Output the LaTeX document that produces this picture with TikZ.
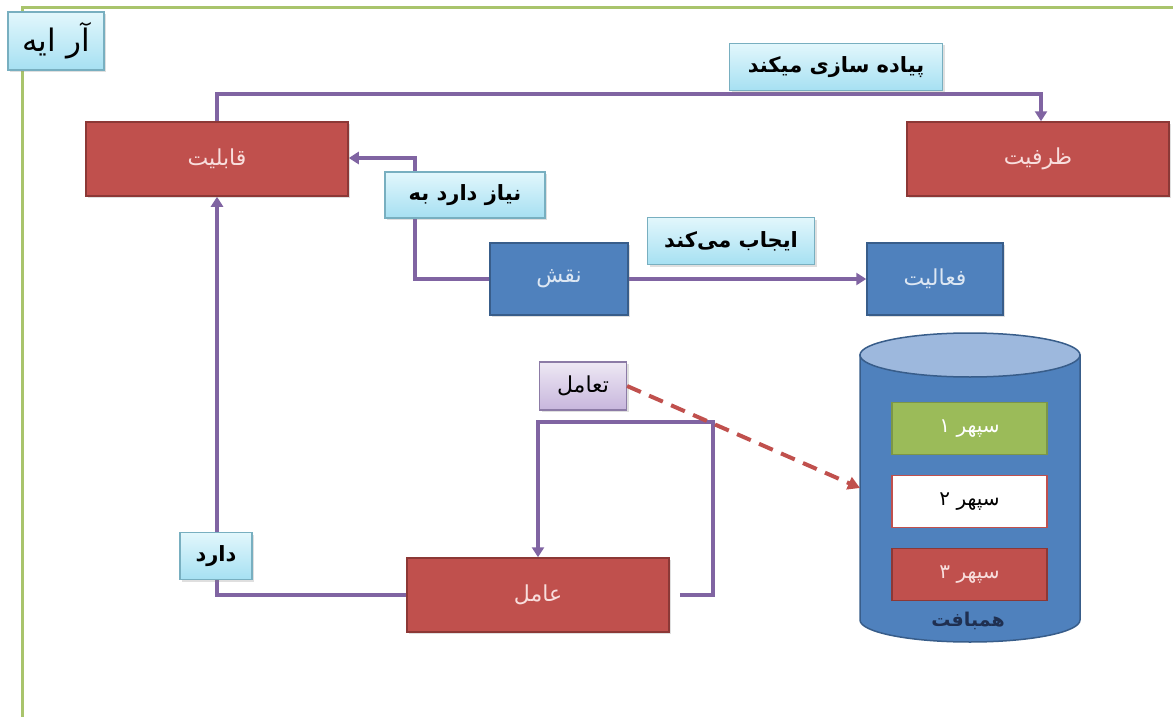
\documentclass[tikz,border=0pt]{standalone}
\usepackage{fontspec}
\newfontfamily\fa[Script=Arabic]{DejaVu Sans}
\TeXXeTstate=1
\usetikzlibrary{arrows.meta,shadows}
\pgfdeclarelayer{bg}
\pgfsetlayers{bg,main}
\definecolor{boxred}{HTML}{C0504D}
\definecolor{boxredline}{HTML}{8C3836}
\definecolor{boxblue}{HTML}{4F81BD}
\definecolor{boxblueline}{HTML}{385D8A}
\definecolor{cyantop}{HTML}{E2F7FC}
\definecolor{cyanbot}{HTML}{A6E0F2}
\definecolor{cyanline}{HTML}{78AFC0}
\definecolor{lavtop}{HTML}{EEE8F4}
\definecolor{lavbot}{HTML}{C7B6DC}
\definecolor{lavline}{HTML}{8C7BA6}
\definecolor{linepurple}{HTML}{8064A2}
\definecolor{framegreen}{HTML}{A9C46C}
\definecolor{cyltop}{HTML}{9DB8DD}
\definecolor{sgreen}{HTML}{9BBB59}
\definecolor{redtext}{HTML}{F8DEDD}
\definecolor{bluetext}{HTML}{DDE7F3}
\definecolor{navytext}{HTML}{1F2F50}
\newcommand\fatext[1]{\fa\beginR #1\endR}
\tikzset{
  shd/.style={drop shadow={opacity=0.25,shadow xshift=2pt,shadow yshift=-2pt}},
  redbox/.style={shd,draw=boxredline,line width=1.5pt,fill=boxred,text=redtext,
    minimum width=262pt,minimum height=74pt,font=\fontsize{22}{26}\selectfont},
  bluebox/.style={shd,draw=boxblueline,line width=1.5pt,fill=boxblue,text=bluetext,
    minimum width=138pt,minimum height=72pt,font=\fontsize{22}{26}\selectfont},
  cyanlabel/.style={shd,draw=cyanline,line width=1.2pt,top color=cyantop,bottom color=cyanbot,
    text=black,minimum height=47pt,inner sep=2pt,font=\fontsize{21}{25}\selectfont\bfseries},
  lavlabel/.style={shd,draw=lavline,line width=1.2pt,top color=lavtop,bottom color=lavbot,
    text=black,minimum height=48pt,minimum width=87pt,inner sep=2pt,font=\fontsize{22}{26}\selectfont},
  sphere/.style={line width=1.5pt,minimum width=155pt,minimum height=52pt,font=\fontsize{20}{24}\selectfont},
  conn/.style={draw=linepurple,line width=4pt},
  arr/.style={-{Triangle[length=10pt,width=12pt]}},
  dashconn/.style={draw=boxred,line width=4pt,dash pattern=on 15pt off 9pt,
    -{Triangle[length=12pt,width=13pt]}},
}
\begin{document}
\begin{tikzpicture}[x=1pt,y=-1pt]
\useasboundingbox (0,0) rectangle (1173,717);
\begin{pgfonlayer}{bg}
  \draw[framegreen,line width=3pt] (22,725) -- (22,8) -- (1180,8);
\end{pgfonlayer}

% main boxes
\node[redbox] (qab) at (217,159) {\fatext{قابلیت}};
\node[redbox] (zarf) at (1038,159) {\fatext{ظرفیت}};
\node[bluebox] (naqsh) at (559,279) {\fatext{نقش}};
\node[bluebox,minimum width=136pt] (faal) at (935,279) {\fatext{فعالیت}};
\node[redbox] (amel) at (538,595) {\fatext{عامل}};

% cylinder
\fill[boxblue,draw=boxblueline,line width=1.5pt]
  (860,355) -- (860,620) arc[start angle=180,end angle=0,x radius=110,y radius=22] -- (1080,355) -- cycle;
\fill[cyltop,draw=boxblueline,line width=1.5pt] (970,355) ellipse[x radius=110,y radius=22];
\coordinate (dbw) at (860,488);
\node[sphere,fill=sgreen,draw=sgreen!80!black,text=white] (s1) at (969.5,428.5) {\fatext{سپهر ۱}};
\node[sphere,fill=white,draw=boxred,text=black] (s2) at (969.5,501.5) {\fatext{سپهر ۲}};
\node[sphere,fill=boxred,draw=boxredline,text=redtext] (s3) at (969.5,574.5) {\fatext{سپهر ۳}};
\node[text=navytext,font=\fontsize{19}{22}\selectfont\bfseries] (hb) at (968,621) {\fatext{همبافت}};

% labels
\node[cyanlabel,minimum width=96pt,minimum height=58pt,font=\fontsize{31}{34}\selectfont] (title) at (56,41) {\fatext{آر ایه}};
\node[cyanlabel,minimum width=213pt] (pl) at (836,67) {\fatext{پیاده سازی میکند}};
\node[cyanlabel,minimum width=160pt,minimum height=46pt] (niaz) at (465,195) {\fatext{نیاز دارد به}};
\node[cyanlabel,minimum width=167pt] (ijab) at (731,241) {\fatext{ایجاب می‌کند}};
\node[cyanlabel,minimum width=72pt] (darad) at (216,556) {\fatext{دارد}};
\node[lavlabel] (taamol) at (583,386) {\fatext{تعامل}};

% connectors
\begin{pgfonlayer}{bg}
  \coordinate (t1) at (1041,94);
  \draw[conn,arr] (qab.north) |- (t1) -- (t1 |- zarf.north);
  \coordinate (t2) at (415,158);
  \draw[conn,arr] (naqsh.west) -| (t2) -- (t2 -| qab.east);
  \draw[conn,arr] (naqsh.east) -- (faal.west);
  \coordinate (t3) at (713,422);
  \draw[conn,arr] ([xshift=10pt]amel.east) -| (t3) -| (amel.north);
  \draw[conn,arr] (amel.west) -| (qab.south);
\end{pgfonlayer}
\draw[dashconn] (taamol.east) -- (dbw);
\end{tikzpicture}
\end{document}
